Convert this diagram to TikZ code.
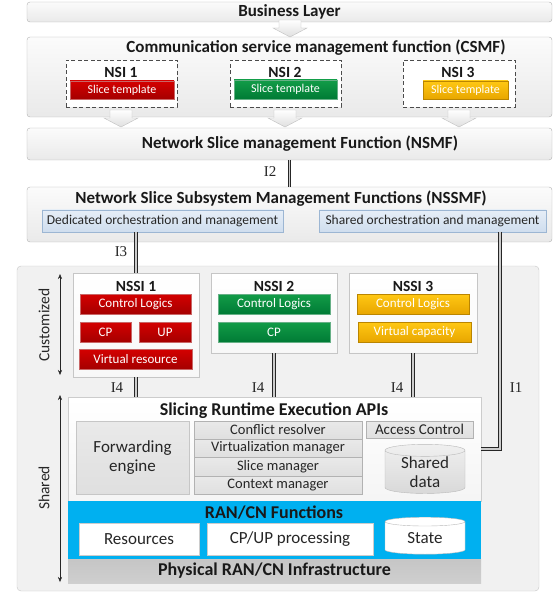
\documentclass[tikz,border=0pt]{standalone}
\usepackage{fontspec}
\setmainfont{Carlito}
\newfontfamily\ifont{Liberation Serif}
\usetikzlibrary{shapes.geometric,arrows.meta}
\definecolor{redT}{HTML}{D40000}
\definecolor{redB}{HTML}{A50000}
\definecolor{grnT}{HTML}{129C48}
\definecolor{grnB}{HTML}{007B35}
\definecolor{ylwT}{HTML}{FFC814}
\definecolor{ylwB}{HTML}{E8A600}
\definecolor{cyanbg}{HTML}{00B0F0}
\definecolor{lbT}{HTML}{E6EEF7}
\definecolor{lbB}{HTML}{CFDDEE}
\definecolor{lbD}{HTML}{9CB6D3}
\newcommand\rbox[7]{\node[#1, minimum width={#4pt-#2pt}, minimum height={#5pt-#3pt}] (#6) at ({(#2+#4)/2},{(#3+#5)/2}) {#7};}
\newcommand\barrow[2]{\path[blockarrow] ({#1-11},#2) -- ({#1+11},#2) -- ({#1+11},{#2+8}) -- ({#1+17},{#2+8}) -- (#1,{#2+17}) -- ({#1-17},{#2+8}) -- ({#1-11},{#2+8}) -- cycle;}
\tikzset{
  every node/.style={inner sep=0pt, outer sep=0pt},
  layer/.style={draw=gray!60, rounded corners=3pt, top color=gray!3, bottom color=gray!17},
  ttl/.style={font=\bfseries\fontsize{17}{19}\selectfont, text=black!90},
  ttlL/.style={font=\bfseries\fontsize{18}{20}\selectfont, text=black!90},
  nsttl/.style={font=\bfseries\fontsize{15.5}{17}\selectfont, text=black!90},
  nsi/.style={draw=gray!60!black, dash pattern=on 4pt off 2.5pt, line width=0.9pt, fill=white},
  sml/.style={font=\fontsize{13}{15}\selectfont},
  tpl/.style={font=\fontsize{12}{14}\selectfont},
  redbox/.style={sml, text=white, top color=redT, bottom color=redB, draw=redB!60},
  grnbox/.style={sml, text=white, top color=grnT, bottom color=grnB, draw=grnB!60},
  ylwbox/.style={sml, text=white, top color=ylwT, bottom color=ylwB, draw=ylwB!80!black},
  lbbox/.style={font=\fontsize{13.5}{15}\selectfont, text=black!85, top color=lbT, bottom color=lbB, draw=lbD},
  nssi/.style={draw=gray!45, top color=white, bottom color=gray!6},
  gbox/.style={draw=gray!45, top color=gray!17, bottom color=gray!25, text=black!85},
  stk/.style={gbox, font=\fontsize{14.5}{16}\selectfont, draw=gray!60},
  big/.style={font=\fontsize{17}{20}\selectfont},
  wbox/.style={big, fill=white, draw=gray!40, text=black!85},
  blockarrow/.style={draw=gray!50, top color=white, bottom color=gray!25},
  dbl/.style={draw=black!85, line width=1pt, double=gray!40, double distance=1.6pt},
  ilab/.style={font=\ifont\fontsize{15}{16}\selectfont, text=black!85},
  side/.style={font=\fontsize{15.5}{17}\selectfont, rotate=90, text=black!85},
  cyl/.style={cylinder, shape border rotate=90, shape aspect=0.25, draw=gray!55}
}
\begin{document}
\begin{tikzpicture}[x=1pt, y=-1pt]
\useasboundingbox (0,0) rectangle (556,593);
% upper layers
\rbox{layer, ttl}{27}{2}{552}{22}{bl}{Business Layer}
\rbox{layer}{27}{37}{552}{117}{csmf}{}
\node[ttl] (csmfT) at (316,48) {Communication service management function (CSMF)};
\rbox{nsi}{66}{60}{177}{107}{nsi1}{}
\rbox{nsi}{230}{60}{341}{107}{nsi2}{}
\rbox{nsi}{403}{60}{515}{107}{nsi3}{}
\node[nsttl] (nsi1T) at (121,72) {NSI 1};
\node[nsttl] (nsi2T) at (285,72) {NSI 2};
\node[nsttl] (nsi3T) at (458,72) {NSI 3};
\rbox{redbox, tpl}{70}{81}{174}{99}{st1}{Slice template}
\rbox{grnbox, tpl}{234}{80}{337}{99}{st2}{Slice template}
\rbox{ylwbox, tpl}{423}{81}{508}{99}{st3}{Slice template}
\rbox{layer}{27}{128}{552}{160}{nsmf}{}
\node[ttl] (nsmfT) at (300,144) {Network Slice management Function (NSMF)};
\rbox{layer}{27}{187}{552}{242}{nssmf}{}
\node[ttl] (nssmfT) at (281,199) {Network Slice Subsystem Management Functions (NSSMF)};
\rbox{lbbox}{42}{210}{283}{232}{ded}{Dedicated orchestration and management}
\rbox{lbbox}{319}{210}{546}{232}{shr}{Shared orchestration and management}
% block arrows
\barrow{290}{20}
\barrow{121}{110}
\barrow{285}{110}
\barrow{459}{110}
% big region
\rbox{draw=gray!45, rounded corners=4pt, fill=gray!11}{17}{266}{539}{591}{region}{}
\coordinate (cuT) at (60,274);
\coordinate (cuB) at (60,375);
\coordinate (shT) at (60,395);
\coordinate (shB) at (60,582);
\draw[{Stealth[length=5pt,width=4pt]}-{Stealth[length=5pt,width=4pt]}, black!85] (cuT) -- (cuB);
\draw[{Stealth[length=5pt,width=4pt]}-{Stealth[length=5pt,width=4pt]}, black!85] (shT) -- (shB);
\node[side] (cuL) at (44,325) {Customized};
\node[side] (shL) at (44,488) {Shared};
% NSSIs
\rbox{nssi}{73}{273}{199}{377}{nssi1}{}
\rbox{nssi}{211}{273}{337}{353}{nssi2}{}
\rbox{nssi}{349}{273}{477}{353}{nssi3}{}
\node[nsttl] (nssi1T) at (136,286) {NSSI 1};
\node[nsttl] (nssi2T) at (274,286) {NSSI 2};
\node[nsttl] (nssi3T) at (413,286) {NSSI 3};
\rbox{redbox}{80}{294}{191}{314}{cl1}{Control Logics}
\rbox{redbox}{80}{322}{131}{342}{cp1}{CP}
\rbox{redbox}{139}{322}{191}{342}{up1}{UP}
\rbox{redbox}{79}{349}{192}{369}{vr1}{Virtual resource}
\rbox{grnbox}{218}{294}{330}{314}{cl2}{Control Logics}
\rbox{grnbox}{218}{322}{330}{342}{cp2}{CP}
\rbox{ylwbox}{357}{294}{469}{314}{cl3}{Control Logics}
\rbox{ylwbox}{358}{322}{471}{342}{vc3}{Virtual capacity}
% shared stack
\rbox{draw=gray!40, top color=white, bottom color=gray!8}{68}{397}{481}{501}{sre}{}
\node[ttlL] (sreT) at (274,411) {Slicing Runtime Execution APIs};
\rbox{gbox, big, align=center}{76}{421}{189}{494}{fe}{Forwarding\\[-1pt]engine}
\rbox{stk}{194}{421}{362}{439}{cr}{Conflict resolver}
\rbox{stk}{194}{439}{362}{457}{vm}{Virtualization manager}
\rbox{stk}{194}{457}{362}{476}{sm}{Slice manager}
\rbox{stk}{194}{476}{362}{494}{cm}{Context manager}
\rbox{stk, font=\fontsize{15}{16}\selectfont}{366}{421}{473}{438}{ac}{Access Control}
\node[cyl, top color=gray!12, bottom color=gray!30, minimum width=80pt, minimum height=45pt, big, align=center, text=black!85] (sd) at (425,472) {Shared\\[-1pt]data};
\rbox{fill=cyanbg}{68}{501}{481}{559}{ran}{}
\node[ttlL] (ranT) at (274,513) {RAN/CN Functions};
\rbox{wbox}{79}{523}{199}{555}{res}{Resources}
\rbox{wbox}{207}{523}{373}{555}{cpup}{CP/UP processing}
\node[cyl, fill=white, minimum width=80pt, minimum height=37pt, big, text=black!85] (state) at (425,538) {State};
\rbox{ttlL, top color=gray!45, bottom color=gray!38}{68}{559}{481}{583}{phy}{Physical RAN/CN Infrastructure}
% interfaces
\draw[dbl] (nsmf.south) -- (nssmf.north);
\draw[dbl] (ded.south -| nssi1.north) -- (nssi1.north);
\draw[dbl] (nssi1.south) -- (sre.north -| nssi1.south);
\draw[dbl] (nssi2.south) -- (sre.north -| nssi2.south);
\draw[dbl] (nssi3.south) -- (sre.north -| nssi3.south);
\coordinate (k1) at (500,449);
\draw[dbl] (shr.south -| k1) -- (k1) -- (sre.east |- k1);
\node[ilab] (i2) at (270,172) {I2};
\node[ilab] (i3) at (121,252) {I3};
\node[ilab] (i4a) at (117,388) {I4};
\node[ilab] (i4b) at (258,388) {I4};
\node[ilab] (i4c) at (397,388) {I4};
\node[ilab] (i1) at (516,388) {I1};
\end{tikzpicture}
\end{document}
